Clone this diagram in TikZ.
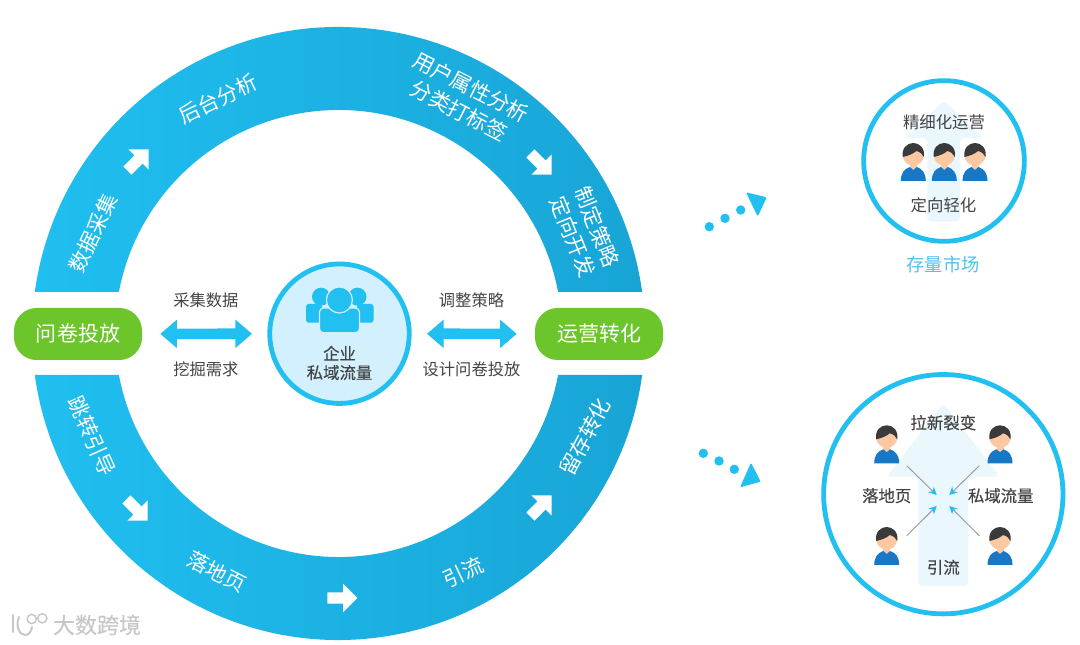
\documentclass[tikz,border=0pt]{standalone}
\usepackage{fontspec}
\setmainfont{Noto Sans CJK SC}
\newfontfamily\darkfont[FakeBold=0.25]{Noto Sans CJK SC}
\usetikzlibrary{arrows.meta,positioning,shapes.arrows}

\definecolor{ringleft}{HTML}{1FBFF0}
\definecolor{ringmid}{HTML}{1CB8E9}
\definecolor{ringright}{HTML}{18A5D6}
\definecolor{lineblue}{HTML}{22BFF1}
\definecolor{hubfill}{HTML}{D2F0FD}
\definecolor{pillgreen}{HTML}{6CC62B}
\definecolor{softblue}{HTML}{EAF8FE}
\definecolor{marketblue}{HTML}{4CC3F0}
\definecolor{textdark}{HTML}{444444}
\definecolor{hairdark}{HTML}{3A3A3C}
\definecolor{skintone}{HTML}{FBC8A2}
\definecolor{shirtblue}{HTML}{1878C6}

\tikzset{
    ringtext/.style={text=white, font=\fontsize{15.8}{19.8}\selectfont, align=center, inner sep=0pt},
    sidetext/.style={text=textdark, font=\fontsize{12.2}{15}\selectfont, align=center, inner sep=0pt},
    boldtext/.style={text=textdark, font=\darkfont\fontsize{12.3}{14.3}\selectfont, align=center, inner sep=0pt},
    pillbox/.style={rectangle, rounded corners=17pt, fill=pillgreen, text=white,
        minimum width=96pt, minimum height=39pt, font=\fontsize{15.75}{18}\selectfont},
    whitearrow/.style={single arrow, fill=white, inner sep=4.1pt, minimum height=22.5pt,
        single arrow head extend=6.4pt, single arrow tip angle=90},
    bothways/.style={draw=lineblue, line width=8pt,
        {Triangle[length=12.5pt,width=20.5pt]}-{Triangle[length=12.5pt,width=20.5pt]}},
    crossline/.style={draw=black!40, line width=.7pt,
        -{Stealth[color=lineblue,length=6pt,width=6pt]}},
    softarrow/.style={fill=softblue, rounded corners=3pt},
    bigcircle/.style={circle, draw=lineblue, line width=3.6pt, inner sep=0pt},
    logoline/.style={draw=black!22, line width=1.5pt, line cap=round},
    person/.pic={
        \fill[skintone] (-3.5,9) rectangle (3.5,18);
        \fill[shirtblue] (-12.5,0) -- (12.5,0) .. controls (12.5,8) and (9,12) .. (3.5,14)
            -- (0,11) -- (-3.5,14) .. controls (-9,12) and (-12.5,8) .. (-12.5,0) -- cycle;
        \fill[skintone] (0,25.5) ellipse [x radius=10.5, y radius=10];
        \fill[hairdark] (-10.5,24) .. controls (-12,33) and (-6,38) .. (0,38)
            .. controls (6,38) and (12,33) .. (10.5,24)
            .. controls (9,27) and (7,29) .. (3,30)
            .. controls (0,27) and (-6,25) .. (-10.5,24) -- cycle;
    },
}

\begin{document}
\begin{tikzpicture}[x=.75pt, y=.75pt, >=latex]

\useasboundingbox (0,0) rectangle (1080,645);
\fill[white] (0,0) rectangle (1080,645);

% ring
\shade[left color=ringleft, middle color=ringmid, right color=ringright]
    (34.8,353) arc[start angle=172.22, end angle=7.78, radius=306.5]
    -- (558.1,353) arc[start angle=10.70, end angle=169.30, radius=223.5] -- cycle;
\shade[left color=ringleft, middle color=ringmid, right color=ringright]
    (34.8,270) arc[start angle=187.78, end angle=352.22, radius=306.5]
    -- (558.1,270) arc[start angle=349.30, end angle=190.70, radius=223.5] -- cycle;

\node (collect) [ringtext, rotate=65] at (93,412) {数据采集};
\node (backend) [ringtext, rotate=26] at (218,546) {后台分析};
\node (tagging) [ringtext, rotate=-27] at (465,546) {用户属性分析\\分类打标签};
\node (strategy) [ringtext, rotate=-68] at (585,413) {制定策略\\定向开发};
\node (redirect) [ringtext, rotate=-66] at (92,209) {跳转引导};
\node (landing) [ringtext, rotate=-27] at (217,73) {落地页};
\node (traffic) [ringtext, rotate=25] at (463,73) {引流};
\node (retain) [ringtext, rotate=62] at (585,208) {留存转化};

\node (step1) [whitearrow, rotate=45] at (136,483) {};
\node (step2) [whitearrow, rotate=-45] at (539,483) {};
\node (step3) [whitearrow, rotate=-45] at (135,137) {};
\node (step4) [whitearrow] at (339.5,47) {};
\node (step5) [whitearrow, rotate=45] at (539,137) {};

% middle row
\node (survey) [pillbox] at (78,311) {问卷投放};
\node (operate) [pillbox] at (599,311) {运营转化};
\node (hub) [bigcircle, fill=hubfill, minimum size=104.6pt] at (339.5,311.3) {};

\draw[bothways, shorten <=13.5pt, shorten >=11.5pt] (survey) -- (hub);
\draw[bothways, shorten <=11.5pt, shorten >=13.5pt] (hub) -- (operate);

\coordinate (leftmid) at (205.8,310.5);
\coordinate (rightmid) at (471.5,310.5);
\node (gather) [sidetext, above=19.5pt of leftmid] {采集数据};
\node (mining) [sidetext, below=20pt of leftmid] {挖掘需求};
\node (adjust) [sidetext, above=19.5pt of rightmid] {调整策略};
\node (design) [sidetext, below=20pt of rightmid] {设计问卷投放};

% icon in the hub
\fill[lineblue, rounded corners=2pt] (306,322.3) rectangle (322,341);
\fill[lineblue, rounded corners=2pt] (357,322.3) rectangle (373.5,341);
\fill[lineblue] (321,348.3) circle (9);
\fill[lineblue] (357.5,348.3) circle (9);
\fill[lineblue, draw=hubfill, line width=.9pt, rounded corners=3pt] (319.5,312.3) rectangle (359.5,337);
\fill[lineblue, draw=hubfill, line width=.9pt] (339.4,345) circle (13);
\node (hubtext) [boldtext] at (339.5,282) {企业\\私域流量};

% dotted pointers
\foreach \x/\y in {709.3/418.3,725/426.7,740.7/435}
    \fill[lineblue] (\x,\y) circle (4.7);
\fill[lineblue, rounded corners=1pt] (746,452.7) -- (766.7,447.7) -- (757.7,428.3) -- cycle;
\foreach \x/\y in {703.3/191.7,719/184,734.3/175.7}
    \fill[lineblue] (\x,\y) circle (4.7);
\fill[lineblue, rounded corners=1pt] (751,182.3) -- (760.7,163.3) -- (740,157.7) -- cycle;

% upper circle
\node (stock) [bigcircle, minimum size=120.5pt] at (944,484) {};
\fill[softarrow] (927.3,423.3) -- (927.3,507) -- (905,507) -- (944,544.3) -- (983,507) -- (960,507) -- (960,423.3) -- cycle;
\node (refine) [sidetext, font=\fontsize{12.3}{15}\selectfont] at (944,523) {精细化运营};
\node (light) [sidetext, font=\fontsize{12.3}{15}\selectfont] at (943.5,440) {定向轻化};
\node (market) [sidetext, text=marketblue, font=\fontsize{13.7}{16}\selectfont] at (943,381) {存量市场};
\pic at (913.3,464) {person};
\pic at (944.3,464) {person};
\pic at (975,464) {person};

% lower circle
\node (growth) [bigcircle, minimum size=179.5pt] at (943.3,150.8) {};
\fill[softarrow] (918.3,59) -- (918.3,168.3) -- (886.7,168.3) -- (943.3,241.7) -- (1000,168.3) -- (968.3,168.3) -- (968.3,59) -- cycle;
\node (fission) [boldtext] at (943.3,222.3) {拉新裂变};
\node (page) [boldtext] at (886.7,149.3) {落地页};
\node (private) [boldtext] at (1000.7,149.3) {私域流量};
\node (drain) [boldtext] at (943.3,77.7) {引流};
\pic at (886.7,181.7) {person};
\pic at (1000,181.7) {person};
\pic at (886.7,80) {person};
\pic at (1000,80) {person};

\coordinate (ulfrom) at (906.7,179.3);
\coordinate (ulto) at (936.7,150);
\coordinate (urfrom) at (979.3,179.3);
\coordinate (urto) at (949.3,150);
\coordinate (llfrom) at (906.7,109.3);
\coordinate (llto) at (936.7,139);
\coordinate (lrfrom) at (979.3,109.3);
\coordinate (lrto) at (949.3,139);
\draw[crossline] (ulfrom) -- (ulto);
\draw[crossline] (urfrom) -- (urto);
\draw[crossline] (llfrom) -- (llto);
\draw[crossline] (lrfrom) -- (lrto);

% mark in the corner
\draw[logoline] (12.7,30) -- (12.7,13);
\draw[logoline] (19,28) .. controls (15,18) and (20,10) .. (25,10) .. controls (29,10) and (31,13) .. (32,18);
\draw[logoline, line width=1.1pt] (31.7,26) circle (4.6);
\draw[logoline, line width=1.1pt] (42.3,26.7) circle (4.6);
\node (brand) [text=black!22, font=\darkfont\fontsize{16.5}{18}\selectfont, inner sep=0pt] at (97,20) {大数跨境};

\end{tikzpicture}
\end{document}
